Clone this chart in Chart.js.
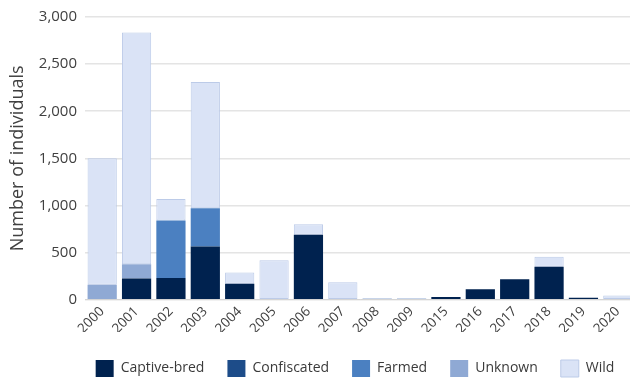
<!DOCTYPE html>
<html>
<head>
<meta charset="utf-8">
<script src="https://cdn.jsdelivr.net/npm/chart.js@4.4.1/dist/chart.umd.min.js"></script>
<style>
  html, body { margin: 0; padding: 0; background: #ffffff; overflow: hidden; }
  #wrap { position: absolute; left: 0; top: 0; width: 640px; height: 380px; }
</style>
</head>
<body>
<div id="wrap"><canvas id="chart" width="640" height="380"></canvas></div>
<script>
// Years shown on the horizontal axis
const years = ['2000','2001','2002','2003','2004','2005','2006','2007','2008','2009',
               '2015','2016','2017','2018','2019','2020'];

// Number of individuals per source, by year
const captiveBred = [0, 225, 230, 565, 170, 0, 690, 0, 0, 0, 28, 110, 216, 350, 21, 0];
const confiscated = [0, 0, 0, 0, 0, 0, 0, 0, 0, 0, 0, 0, 0, 0, 0, 0];
const farmed      = [0, 0, 610, 405, 0, 0, 0, 0, 0, 0, 0, 0, 0, 0, 0, 0];
const unknown     = [160, 150, 0, 0, 0, 0, 0, 0, 12, 12, 0, 0, 0, 0, 0, 0];
const wild        = [1340, 2460, 230, 1340, 120, 420, 110, 185, 0, 0, 0, 0, 0, 105, 0, 46];

// Value-axis ticks
const yTicks = [0, 500, 1000, 1500, 2000, 2500, 3000];

const FONT = "'Open Sans', 'DejaVu Sans', sans-serif";

// Empty segments are left out so they leave no hairline on the stack
function series(label, data, fill, edge, edgeWidth) {
  return {
    label: label,
    data: data.map(v => (v === 0 ? null : v)),
    backgroundColor: fill,
    borderColor: edge,
    borderWidth: edgeWidth,
    borderSkipped: false,
    barPercentage: 0.85,
    categoryPercentage: 1.0
  };
}

// Centre the legend under the plot area and nudge it down a little
const legendShift = {
  id: 'legendShift',
  afterLayout(chart) {
    const lg = chart.legend;
    if (!lg) return;
    const dx = (chart.chartArea.left + chart.chartArea.right) / 2 - (lg.left + lg.right) / 2 - 5;
    const dy = 5;
    lg.left += dx; lg.right += dx;
    lg.top += dy; lg.bottom += dy;
    (lg.legendHitBoxes || []).forEach(b => { b.left += dx; b.top += dy; });
  }
};

new Chart(document.getElementById('chart'), {
  type: 'bar',
  data: {
    labels: years,
    datasets: [
      series('Captive-bred', captiveBred, '#00224f', '#00224f', 0),
      series('Confiscated', confiscated, '#1d4c89', '#1d4c89', 0),
      series('Farmed', farmed, '#4b80c1', '#4b80c1', 0),
      series('Unknown', unknown, '#8fa9d4', '#8fa9d4', 0),
      series('Wild', wild, '#dae3f6', '#bccbe8', 1)
    ]
  },
  plugins: [legendShift],
  options: {
    responsive: false,
    animation: false,
    layout: { padding: { top: 8, right: 5, left: 7, bottom: -2 } },
    plugins: {
      tooltip: { enabled: false },
      legend: {
        position: 'bottom',
        labels: {
          font: { family: FONT, size: 14 },
          color: '#3a3a3a',
          boxWidth: 18,
          boxHeight: 17,
          padding: 23,
          generateLabels(chart) {
            const items = Chart.defaults.plugins.legend.labels.generateLabels(chart);
            items.forEach(it => { it.lineWidth = it.datasetIndex === 4 ? 1 : 0; });
            return items;
          }
        }
      }
    },
    scales: {
      x: {
        stacked: true,
        afterFit: (scale) => { scale.height -= 9; },
        grid: { display: false, drawTicks: false },
        border: { display: true, color: '#d4d4d4', width: 1 },
        ticks: {
          font: { family: FONT, size: 13.5 },
          color: '#404040',
          minRotation: 45,
          maxRotation: 45,
          autoSkip: false,
          padding: 4
        }
      },
      y: {
        stacked: true,
        min: 0,
        max: 3000,
        afterFit: (scale) => { scale.width = 78; },
        afterBuildTicks: (scale) => { scale.ticks = yTicks.map(v => ({ value: v })); },
        grid: { color: '#e4e4e4', lineWidth: 1.5, drawTicks: false },
        border: { display: false },
        ticks: {
          font: { family: FONT, size: 15 },
          color: '#404040',
          padding: 8,
          callback: (v) => v.toLocaleString('en-US')
        },
        title: {
          display: true,
          text: 'Number of individuals',
          font: { family: FONT, size: 18 },
          color: '#404040',
          padding: { top: 0, bottom: 4 }
        }
      }
    }
  }
});
</script>
</body>
</html>
